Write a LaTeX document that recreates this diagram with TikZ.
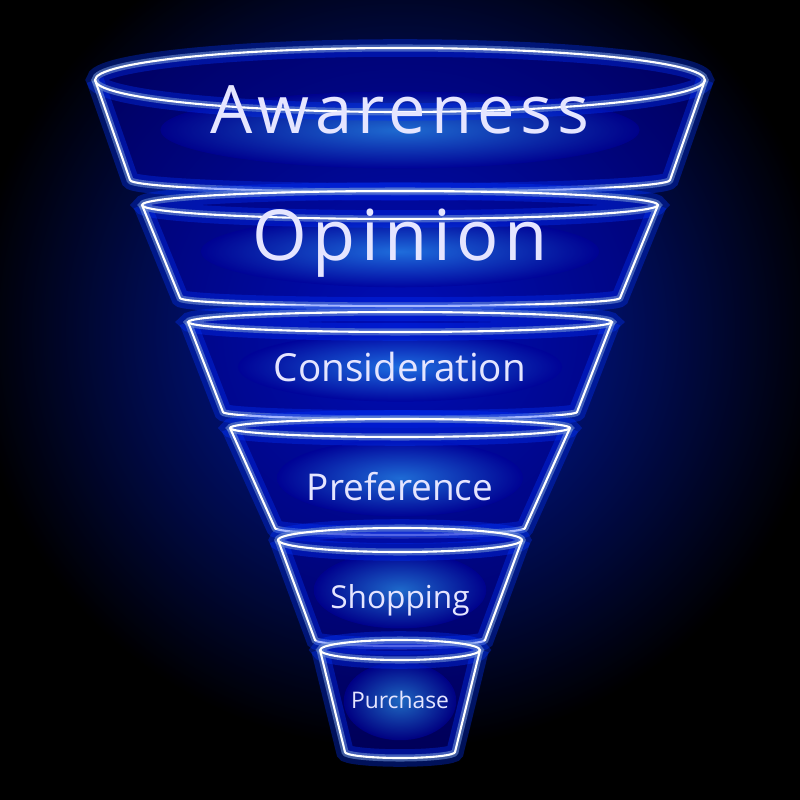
\documentclass[tikz,border=0pt]{standalone}
\usepackage{fontspec}
\setmainfont{Open Sans}
\setsansfont{Open Sans}
\newfontfamily\widefont[LetterSpace=8]{Open Sans}
\begin{document}
\begin{tikzpicture}[x=0.1mm,y=-0.1mm,
  glowA/.style={draw=blue!80!cyan,line width=5pt,opacity=0.35},
  glowB/.style={draw=cyan!40!blue!60!white,line width=2pt,opacity=0.6},
  rim/.style={draw=white,line width=0.6pt},
  lbl/.style={text=blue!10!white,font=\sffamily}]
\useasboundingbox (0,0) rectangle (800,800);
\fill[black] (0,0) rectangle (800,800);
\shade[inner color=blue!85!cyan, outer color=black] (400,330) ellipse [x radius=430, y radius=420];
\fill[black,opacity=0.25] (0,0) rectangle (800,800);
% segments: yt, wt, rt, yb, wb, rb
\foreach \yt/\wt/\rt/\yb/\wb/\rb/\nm in {
  80/305/32/180/270/12/s1,
  205/258/14/298/220/8/s2,
  322/212/10/412/177/7/s3,
  428/170/9/528/125/7/s4,
  540/122/12/640/85/6/s5,
  650/80/10/752/55/6/s6}{
  \fill[blue!70!black,opacity=0.5] (400-\wt,\yt) -- (400-\wb,\yb)
     arc[start angle=180,end angle=0,x radius=\wb,y radius=\rb]
     -- (400+\wt,\yt) arc[start angle=0,end angle=-180,x radius=\wt,y radius=\rt] -- cycle;
  \shade[inner color=cyan!60!blue!80!white,outer color=blue!60!black,opacity=0.6]
     (400,{(\yt+\yb)/2}) ellipse [x radius={(\wt+\wb)/2.4}, y radius={(\yb-\yt)/2.6}];
  \foreach \st in {glowA,glowB,rim}{
    \path[\st] (400,\yt) ellipse [x radius=\wt, y radius=\rt];
    \path[\st] (400-\wt,\yt) -- (400-\wb,\yb)
       arc[start angle=180,end angle=0,x radius=\wb,y radius=\rb] -- (400+\wt,\yt);
  }
  \coordinate (\nm) at (400,{(\yt+\yb)/2+8});
}
\node[lbl,font=\widefont\fontsize{19}{19}\selectfont] (t1) at (400,110) {Awareness};
\node[lbl,font=\widefont\fontsize{20}{20}\selectfont] (t2) at (400,243) {Opinion};
\node[lbl,font=\sffamily\fontsize{11}{11}\selectfont] (t3) at (400,367) {Consideration};
\node[lbl,font=\sffamily\fontsize{10.5}{10.5}\selectfont] (t4) at (400,487) {Preference};
\node[lbl,font=\sffamily\fontsize{9}{9}\selectfont] (t5) at (400,600) {Shopping};
\node[lbl,font=\sffamily\fontsize{6.5}{6.5}\selectfont] (t6) at (400,700) {Purchase};
\end{tikzpicture}
\end{document}
